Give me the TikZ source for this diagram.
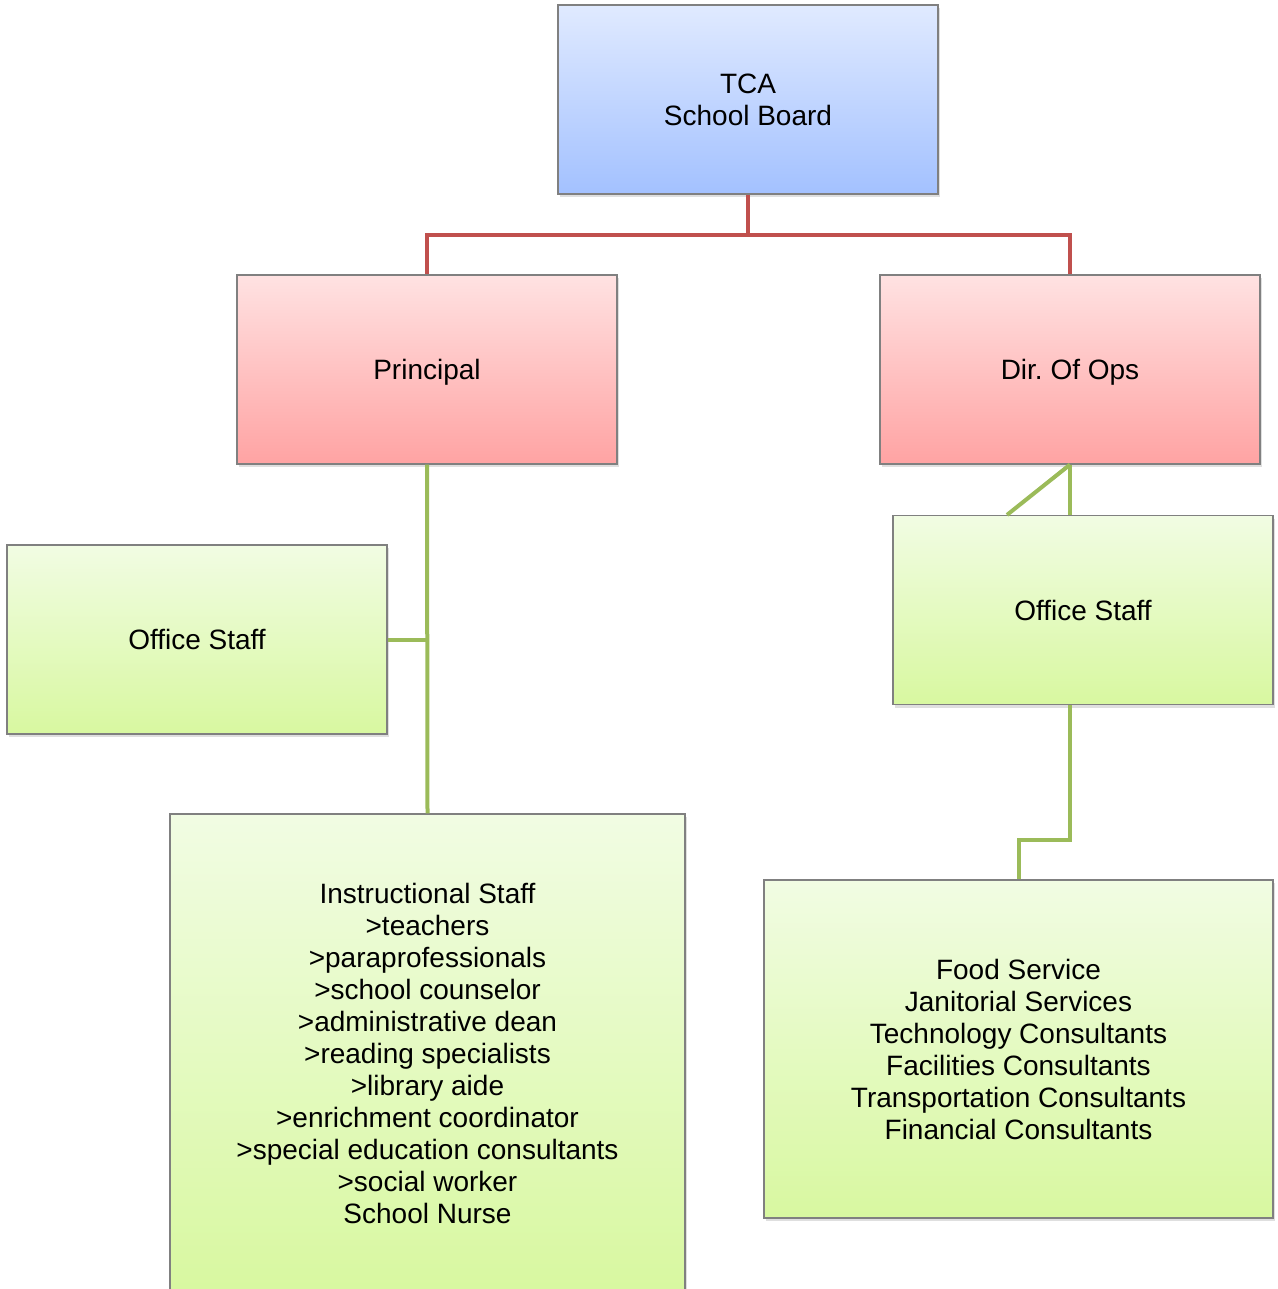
\documentclass[tikz,border=0pt]{standalone}
\usepackage{fontspec}
\setmainfont{Liberation Sans}
\frenchspacing
\usetikzlibrary{positioning, shadows, calc}
\definecolor{boardtop}{HTML}{E0EAFF}
\definecolor{boardbot}{HTML}{A3C1FF}
\definecolor{headtop}{HTML}{FFE2E2}
\definecolor{headbot}{HTML}{FFA3A3}
\definecolor{stafftop}{HTML}{F1FCE3}
\definecolor{staffbot}{HTML}{D8F8A0}
\definecolor{redline}{HTML}{C0504D}
\definecolor{greenline}{HTML}{9BBB59}
\tikzset{
block/.style={
  draw=black!50,
  rectangle,
  line width=0.6pt,
  minimum height=94.5pt,
  minimum width=190pt, align=center,
  font=\fontsize{14}{16}\selectfont,
  drop shadow={opacity=0.25, shadow xshift=1pt, shadow yshift=-1.5pt}
  },
oneline/.style={text height=10pt, text depth=0pt},
board/.style={block, top color=boardtop, bottom color=boardbot},
head/.style={block, oneline, top color=headtop, bottom color=headbot},
staff/.style={block, top color=stafftop, bottom color=staffbot},
redcon/.style={draw=redline, line width=2pt},
greencon/.style={draw=greenline, line width=2pt}
}
\begin{document}
\begin{tikzpicture}[x=0.5pt, y=-0.5pt]
\useasboundingbox (0,0) rectangle (1278,1289);
\clip (0,0) rectangle (1278,1289);

\node[board]	(board)		at (748,99.5)		{TCA \\ School Board};
\node[head]	(principal)	at (427,369.5)		{Principal};
\node[head]	(ops)		at (1070,369.5)		{Dir. Of Ops};
\node[staff, oneline]	(officeL)	at (197,639.5)		{Office Staff};
\node[staff, oneline]	(officeR)	at (1083,610)		{Office Staff};
\node[staff, minimum width=257.5pt, minimum height=239pt]	(instr)	at (427.5,1053)
	{Instructional Staff \\ >teachers \\ >paraprofessionals \\ >school counselor \\ >administrative dean \\ >reading specialists \\ >library aide \\ >enrichment coordinator \\ >special education consultants \\ >social worker \\ School Nurse};
\node[staff, minimum width=254.5pt, minimum height=169pt]	(support)	at (1018.5,1049)
	{Food Service \\ Janitorial Services \\ Technology Consultants \\ Facilities Consultants \\ Transportation Consultants \\ Financial Consultants};

\draw[redcon] (board.south) -- ++(0,40) coordinate (bar) -| (principal.north);
\draw[redcon] (bar) -| (ops.north);
\draw[greencon] (principal.south) -- (instr.north);
\draw[greencon] (officeL.east) -- (principal.south |- officeL.east);
\draw[greencon] (ops.south) -- (ops.south |- officeR.north);
\draw[greencon] (ops.south) -- ($(officeR.north)+(-76,0)$);
\draw[greencon] (ops.south |- officeR.south) -- ++(0,135) -| (support.north);
\end{tikzpicture}
\end{document}
